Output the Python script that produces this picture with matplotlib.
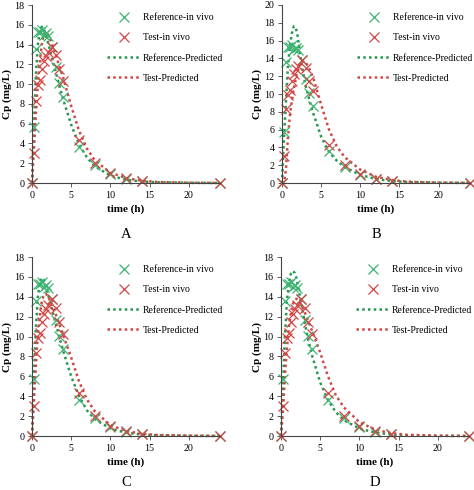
import matplotlib
matplotlib.use("Agg")
import matplotlib.pyplot as plt
from matplotlib.lines import Line2D

plt.rcParams['font.family'] = ['Liberation Serif', 'DejaVu Serif']

# in vivo observations (same in all panels)
t_obs = [0, 0.25, 0.5, 0.75, 1, 1.25, 1.5, 1.75, 2, 2.5, 3, 3.5, 4, 6, 8, 10, 12, 14, 24]
ref_obs = [0, 5.7, 13.6, 15.3, 15.3, 15.5, 15.0, 15.2, 14.9, 13.8, 11.7, 10.1, 8.7, 3.6, 1.8, 0.95, 0.45, 0.25, 0.05]
test_obs = [0, 3.0, 8.3, 9.9, 10.4, 11.5, 12.3, 12.8, 13.2, 13.8, 12.9, 11.5, 10.3, 4.3, 2.0, 1.0, 0.5, 0.25, 0.03]

# predicted profiles, read at these times
t_pred = [0, 0.25, 0.5, 0.75, 1, 1.25, 1.5, 1.75, 2, 2.5, 3, 3.5, 4, 5, 6, 7, 8, 10, 12, 14, 16, 20, 24]
ref_pred_A = [0, 6.0, 11.0, 14.0, 15.4, 15.8, 15.6, 15.0, 14.3, 12.8, 11.3, 9.8, 8.4, 5.9, 3.9, 2.6, 1.7, 0.75, 0.33, 0.15, 0.07, 0.02, 0.0]
test_pred_A = [0, 3.5, 7.0, 10.0, 12.3, 14.0, 15.0, 15.3, 15.1, 14.2, 13.0, 11.8, 10.6, 7.8, 5.3, 3.5, 2.3, 1.05, 0.5, 0.23, 0.1, 0.03, 0.01]
ref_pred_B = [0, 5.0, 9.0, 13.0, 15.3, 16.8, 17.6, 17.5, 16.5, 13.3, 11.0, 9.3, 7.8, 5.2, 3.5, 2.5, 1.8, 0.9, 0.45, 0.22, 0.1, 0.03, 0.01]
test_pred_B = [0, 0.0, 1.5, 5.0, 7.5, 9.2, 10.5, 11.7, 12.7, 13.8, 13.6, 12.8, 11.8, 8.8, 6.0, 4.1, 2.9, 1.5, 0.7, 0.33, 0.15, 0.04, 0.01]
ref_pred_C = [0, 6.0, 11.0, 14.0, 15.5, 15.9, 15.7, 15.1, 14.4, 12.9, 11.4, 9.9, 8.5, 6.0, 4.0, 2.6, 1.7, 0.75, 0.33, 0.15, 0.07, 0.02, 0.0]
test_pred_C = [0, 3.5, 7.2, 10.2, 12.2, 13.5, 14.2, 14.3, 14.1, 13.3, 12.3, 11.2, 10.1, 7.9, 5.5, 3.7, 2.5, 1.1, 0.5, 0.23, 0.1, 0.03, 0.01]
ref_pred_D = [0, 5.0, 10.0, 13.5, 15.4, 16.3, 16.6, 16.4, 15.8, 13.7, 11.5, 9.6, 8.0, 5.4, 3.6, 2.4, 1.6, 0.75, 0.35, 0.16, 0.07, 0.02, 0.0]
test_pred_D = [0, 2.5, 6.0, 8.8, 10.9, 12.3, 13.2, 13.7, 13.8, 13.3, 12.5, 11.5, 10.5, 8.4, 6.0, 4.1, 2.9, 1.4, 0.65, 0.3, 0.13, 0.03, 0.01]

panel_labels = ["A", "B", "C", "D"]
ymax = [18, 20, 18, 18]
legend_labels = ["Reference-in vivo", "Test-in vivo", "Reference-Predicted", "Test-Predicted"]

GREEN = '#24984f'
GREEN_M = '#3cb371'
RED = '#d24545'

fig = plt.figure(figsize=(4.74, 4.90), dpi=100)
W, H = 474, 490
rects_px = [(32, 5, 188, 178), (282, 5, 188, 178), (32, 257, 188, 179), (281, 257, 188, 179)]
preds = [(ref_pred_A, test_pred_A), (ref_pred_B, test_pred_B), (ref_pred_C, test_pred_C), (ref_pred_D, test_pred_D)]
label_y = [234, 234, 482, 482]
DOT = (0, (1, 1.3))

for i in range(4):
    x0, y0, w, h = rects_px[i]
    ax = fig.add_axes([x0 / W, 1 - (y0 + h) / H, w / W, h / H])
    rp, tp = preds[i]
    ax.plot(t_pred, rp, linestyle=DOT, color=GREEN, lw=1.8, clip_on=False)
    ax.plot(t_pred, tp, linestyle=DOT, color=RED, lw=1.8, clip_on=False)
    ax.plot(t_obs, ref_obs, linestyle='none', marker='x', ms=7, mew=0.9, color=GREEN_M, clip_on=False)
    ax.plot(t_obs, test_obs, linestyle='none', marker='x', ms=7, mew=0.9, color=RED, clip_on=False)
    ax.set_xlim(0, 24)
    ax.set_ylim(0, ymax[i])
    ax.set_xticks([0, 5, 10, 15, 20])
    ax.set_yticks(range(0, ymax[i] + 1, 2))
    for s in ['top', 'right']:
        ax.spines[s].set_visible(False)
    for s in ['left', 'bottom']:
        ax.spines[s].set_linewidth(0.8)
        ax.spines[s].set_color('#444444')
    ax.tick_params(axis='x', labelsize=7.2, length=3, width=0.6, color='#444444', pad=3)
    ax.tick_params(axis='y', labelsize=7.2, length=3, width=0.6, color='#444444', pad=2.5)
    ax.set_xlabel("time (h)", fontsize=8, fontweight='bold', labelpad=3)
    ax.set_ylabel("Cp (mg/L)", fontsize=8, fontweight='bold')
    ax.yaxis.set_label_coords(-19.5 / w, 0.5)
    handles = [
        Line2D([], [], linestyle='none', marker='x', ms=7, mew=0.9, color=GREEN_M),
        Line2D([], [], linestyle='none', marker='x', ms=7, mew=0.9, color=RED),
        Line2D([], [], linestyle=DOT, lw=1.8, color=GREEN),
        Line2D([], [], linestyle=DOT, lw=1.8, color=RED),
    ]
    ax.legend(handles, legend_labels, loc='upper left', bbox_to_anchor=(0.40, 0.954),
              frameon=False, fontsize=7.0, handlelength=3.4, handletextpad=0.25,
              labelspacing=1.15, borderpad=0, borderaxespad=0)
    fig.text((x0 + w / 2) / W, 1 - label_y[i] / H, panel_labels[i], ha='center', va='center', fontsize=10.5)

fig.savefig("out.png", dpi=100)
